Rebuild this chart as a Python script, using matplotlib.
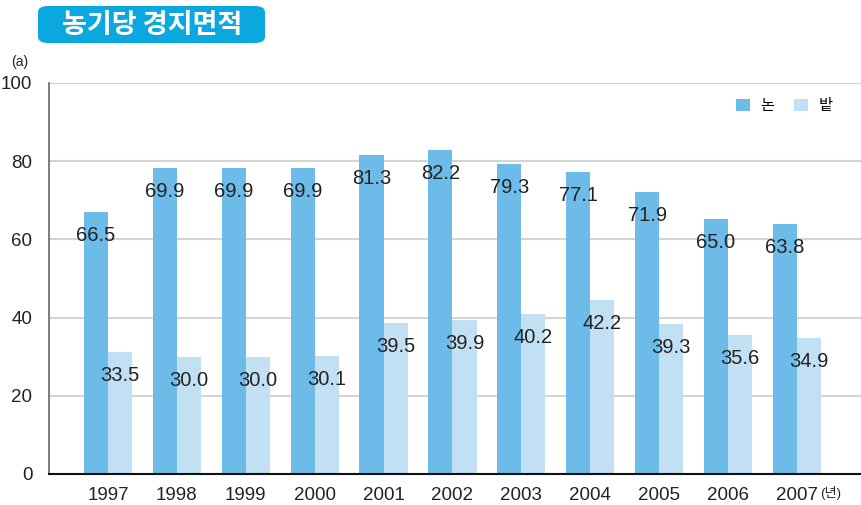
import matplotlib
matplotlib.use("Agg")
import matplotlib.pyplot as plt
import numpy as np
from matplotlib.patches import FancyBboxPatch

plt.rcParams["font.family"] = ["Liberation Sans", "Noto Sans CJK KR", "DejaVu Sans"]

years = ["1997", "1998", "1999", "2000", "2001", "2002",
         "2003", "2004", "2005", "2006", "2007"]
# bar heights as drawn in the reference
paddy_height = [67.0, 78.3, 78.3, 78.3, 81.6, 82.9, 79.3, 77.2, 72.1, 65.2, 63.9]
field_height = [31.2, 29.9, 29.9, 30.2, 38.6, 39.4, 40.9, 44.5, 38.4, 35.5, 34.8]
# printed value labels
paddy_label = ["66.5", "69.9", "69.9", "69.9", "81.3", "82.2",
               "79.3", "77.1", "71.9", "65.0", "63.8"]
field_label = ["33.5", "30.0", "30.0", "30.1", "39.5", "39.9",
               "40.2", "42.2", "39.3", "35.6", "34.9"]
yticks = [0, 20, 40, 60, 80, 100]

color_paddy = "#6cbbe8"
color_field = "#c2e0f4"

fig = plt.figure(figsize=(8.61, 5.05), dpi=100)
ax = fig.add_axes([49 / 861, 31 / 505, 1 - 49 / 861, 391 / 505])

x = np.arange(len(years))
w = 0.35
ax.bar(x - w / 2, paddy_height, w, color=color_paddy, label="논", zorder=2)
ax.bar(x + w / 2, field_height, w, color=color_field, label="밭", zorder=2)

for xi, h, t in zip(x, paddy_height, paddy_label):
    ax.annotate(t, (xi - w / 2, h), xytext=(0, -17), textcoords="offset points",
                ha="center", va="center", fontsize=14.5, color="#222222", zorder=3)
for xi, h, t in zip(x, field_height, field_label):
    ax.annotate(t, (xi + w / 2, h), xytext=(0, -17), textcoords="offset points",
                ha="center", va="center", fontsize=14.5, color="#222222", zorder=3)

ax.set_xlim(-0.856, 10.93)
ax.set_ylim(0, 100)
ax.set_yticks(yticks)
ax.set_xticks(x)
ax.set_xticklabels(years)
ax.tick_params(axis="both", length=0, labelsize=13.5, colors="#222222")
ax.tick_params(axis="y", pad=12)
ax.tick_params(axis="x", pad=9)
ax.grid(axis="y", color="#d4d4d4", linewidth=1.5, zorder=0)
ax.spines["top"].set_visible(False)
ax.spines["right"].set_visible(False)
ax.spines["left"].set_color("#666666")
ax.spines["left"].set_linewidth(1.2)
ax.spines["bottom"].set_color("#111111")
ax.spines["bottom"].set_linewidth(1.5)
ax.spines["bottom"].set_zorder(4)

ax.legend(loc="upper right", bbox_to_anchor=(0.982, 0.995), ncol=2, frameon=False,
          fontsize=11, handlelength=0.9, handleheight=0.9, handletextpad=0.7,
          columnspacing=1.3)

fig.text(20 / 861, 1 - 62 / 505, "(a)", fontsize=10, ha="center", va="center",
         color="#222222")
fig.text(820 / 861, 1 - 493 / 505, "(년)", fontsize=9.5, ha="left", va="center",
         color="#222222")

# title badge
box = FancyBboxPatch((38 / 861, 1 - 43 / 505), 227 / 861, 37 / 505,
                     boxstyle="round,pad=0,rounding_size=0.012",
                     transform=fig.transFigure, facecolor="#0ba8e0",
                     edgecolor="none")
fig.patches.append(box)
fig.text(152 / 861, 1 - 25 / 505, "농기당 경지면적", fontsize=19.5,
         fontweight="bold", color="white", ha="center", va="center",
         family=["Noto Sans CJK KR"])

fig.savefig("out.png", dpi=100)
